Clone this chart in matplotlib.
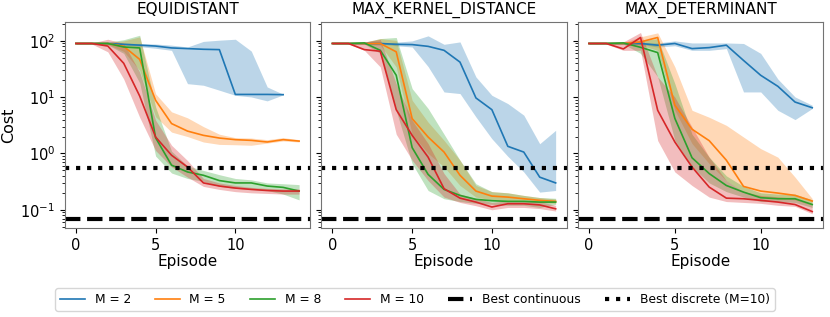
import numpy as np
import matplotlib
matplotlib.use("Agg")
import matplotlib.pyplot as plt
from matplotlib.lines import Line2D

titles = ["EQUIDISTANT", "MAX_KERNEL_DISTANCE", "MAX_DETERMINANT"]
m_labels = ["M = 2", "M = 5", "M = 8", "M = 10"]
colors = ["#1f77b4", "#ff7f0e", "#2ca02c", "#d62728"]
best_continuous = 0.07
best_discrete = 0.56

# ---- EQUIDISTANT ----
eq_m2 = [90, 90, 90, 87, 84, 81, 75, 73, 71, 70, 11.2, 11.2, 11.2, 11.1]
eq_m2_hi = [92, 92, 92, 91, 90, 88, 84, 78, 98, 103, 107, 66, 15.2, 11.3]
eq_m2_lo = [88, 88, 88, 84, 79, 74, 68, 17.4, 16.3, 13.3, 10.8, 10.1, 8.6, 11.0]
eq_m5 = [90, 90, 90, 80, 47, 8.8, 3.4, 2.5, 2.1, 1.88, 1.76, 1.71, 1.60, 1.76, 1.66]
eq_m5_hi = [92, 92, 93, 100, 118, 11.5, 5.5, 4.3, 3.0, 2.2, 1.91, 1.88, 1.76, 1.91, 1.76]
eq_m5_lo = [88, 88, 87, 65, 30, 4.5, 2.4, 2.0, 1.60, 1.45, 1.43, 1.40, 1.53, 1.67, 1.60]
eq_m8 = [90, 90, 90, 78, 75, 1.9, 0.62, 0.47, 0.41, 0.33, 0.30, 0.30, 0.264, 0.25, 0.215]
eq_m8_hi = [92, 92, 95, 105, 126, 6.7, 1.1, 0.6, 0.5, 0.42, 0.36, 0.34, 0.30, 0.29, 0.28]
eq_m8_lo = [88, 88, 85, 60, 18, 0.9, 0.45, 0.36, 0.32, 0.26, 0.24, 0.23, 0.22, 0.19, 0.15]
eq_m10 = [90, 90, 81, 40, 10.5, 1.96, 0.93, 0.575, 0.30, 0.264, 0.243, 0.23, 0.22, 0.215, 0.215]
eq_m10_hi = [92, 92, 107, 90, 28, 3.9, 1.4, 0.75, 0.36, 0.30, 0.27, 0.25, 0.24, 0.235, 0.235]
eq_m10_lo = [88, 88, 64, 21, 4.4, 1.13, 0.58, 0.38, 0.26, 0.23, 0.21, 0.20, 0.195, 0.19, 0.19]

# ---- MAX_KERNEL_DISTANCE ----
kd_m2 = [90, 90, 90, 90, 87, 86, 80, 68, 42, 9.7, 6.0, 1.34, 1.06, 0.38, 0.30]
kd_m2_hi = [92, 92, 92, 92, 95, 100, 123, 87, 96, 22.9, 10.8, 7.7, 4.8, 1.49, 2.58]
kd_m2_lo = [88, 88, 88, 88, 82, 78, 35, 12.4, 11.6, 4.46, 1.83, 0.89, 0.47, 0.206, 0.22]
kd_m5 = [90, 90, 90, 90, 64, 4.16, 1.96, 1.06, 0.41, 0.215, 0.175, 0.168, 0.157, 0.147, 0.141]
kd_m5_hi = [92, 92, 94, 110, 102, 8.8, 3.6, 1.71, 0.76, 0.27, 0.21, 0.20, 0.18, 0.165, 0.155]
kd_m5_lo = [88, 88, 86, 84, 34.5, 2.2, 1.0, 0.58, 0.27, 0.168, 0.15, 0.145, 0.14, 0.135, 0.13]
kd_m8 = [90, 90, 92, 68, 24.5, 1.27, 0.425, 0.23, 0.18, 0.153, 0.145, 0.141, 0.141, 0.137, 0.137]
kd_m8_hi = [92, 92, 95, 110, 115, 14.2, 6.3, 2.2, 0.76, 0.29, 0.21, 0.20, 0.18, 0.165, 0.16]
kd_m8_lo = [88, 88, 88, 60, 5.8, 0.66, 0.22, 0.157, 0.14, 0.13, 0.125, 0.12, 0.12, 0.11, 0.125]
kd_m10 = [90, 90, 70, 65.5, 6.0, 2.1, 0.86, 0.237, 0.161, 0.137, 0.112, 0.128, 0.128, 0.122, 0.104]
kd_m10_hi = [92, 92, 96, 106, 17.4, 3.9, 1.5, 0.44, 0.19, 0.16, 0.135, 0.145, 0.145, 0.14, 0.12]
kd_m10_lo = [88, 88, 68, 34.5, 2.2, 0.76, 0.33, 0.168, 0.135, 0.118, 0.10, 0.11, 0.11, 0.105, 0.095]

# ---- MAX_DETERMINANT ----
md_m2 = [90, 90, 90, 90, 84, 90, 73, 76, 84, 45, 24.5, 15.6, 8.2, 6.5]
md_m2_hi = [92, 92, 92, 93, 92, 100, 92, 92, 92, 90, 60, 21, 10.1, 7.2]
md_m2_lo = [88, 88, 88, 87, 78, 82, 68, 68, 73, 12.4, 12.4, 5.85, 4.0, 6.3]
md_m5 = [90, 90, 90, 96, 115, 7.2, 2.7, 1.69, 0.76, 0.26, 0.215, 0.198, 0.18, 0.143]
md_m5_hi = [92, 92, 93, 118, 139, 34.5, 5.85, 4.4, 3.16, 1.96, 1.22, 0.86, 0.38, 0.158]
md_m5_lo = [88, 88, 87, 84, 68, 5.85, 1.5, 0.66, 0.33, 0.21, 0.17, 0.157, 0.15, 0.12]
md_m8 = [90, 90, 92, 77, 62, 4.2, 0.84, 0.44, 0.27, 0.206, 0.164, 0.157, 0.157, 0.124]
md_m8_hi = [92, 92, 95, 100, 110, 17.4, 2.2, 0.86, 0.40, 0.26, 0.20, 0.19, 0.19, 0.15]
md_m8_lo = [88, 88, 88, 60, 23, 1.71, 0.58, 0.30, 0.21, 0.168, 0.14, 0.14, 0.135, 0.11]
md_m10 = [90, 90, 72, 115, 5.85, 1.6, 0.575, 0.253, 0.161, 0.157, 0.147, 0.137, 0.124, 0.093]
md_m10_hi = [92, 92, 96, 141, 23, 10, 2.95, 0.86, 0.33, 0.21, 0.18, 0.17, 0.16, 0.12]
md_m10_lo = [88, 88, 68, 68, 1.7, 0.47, 0.27, 0.168, 0.14, 0.135, 0.13, 0.12, 0.115, 0.085]

panels = [
    [(eq_m2, eq_m2_lo, eq_m2_hi), (eq_m5, eq_m5_lo, eq_m5_hi),
     (eq_m8, eq_m8_lo, eq_m8_hi), (eq_m10, eq_m10_lo, eq_m10_hi)],
    [(kd_m2, kd_m2_lo, kd_m2_hi), (kd_m5, kd_m5_lo, kd_m5_hi),
     (kd_m8, kd_m8_lo, kd_m8_hi), (kd_m10, kd_m10_lo, kd_m10_hi)],
    [(md_m2, md_m2_lo, md_m2_hi), (md_m5, md_m5_lo, md_m5_hi),
     (md_m8, md_m8_lo, md_m8_hi), (md_m10, md_m10_lo, md_m10_hi)],
]

plt.rcParams['font.family'] = ['DejaVu Sans']
fig, axes = plt.subplots(1, 3, figsize=(8.3, 3.17), dpi=100, sharey=True)
fig.subplots_adjust(left=0.078, right=0.992, top=0.93, bottom=0.28, wspace=0.045)

for ax, title, series in zip(axes, titles, panels):
    for (mean, lo, hi), c in zip(series, colors):
        x = np.arange(len(mean))
        ax.fill_between(x, lo, hi, color=c, alpha=0.3, linewidth=0)
        ax.plot(x, mean, color=c, linewidth=1.2)
    ax.axhline(best_continuous, color='black', linestyle='--', linewidth=3)
    ax.axhline(best_discrete, color='black', linestyle=':', linewidth=3)
    ax.set_yscale('log')
    ax.set_title(title, fontsize=11)
    ax.set_xlabel('Episode', fontsize=11, labelpad=1)
    ax.tick_params(labelsize=10.5)
    for s in ax.spines.values():
        s.set_color('0.45')
axes[0].set_ylim(0.047, 215)
axes[0].set_ylabel('Cost', fontsize=11.5, labelpad=3)

handles = [Line2D([], [], color=c, linewidth=1.2) for c in colors]
handles += [Line2D([], [], color='black', linestyle='--', linewidth=3),
            Line2D([], [], color='black', linestyle=':', linewidth=3)]
labels = m_labels + ['Best continuous', 'Best discrete (M=10)']
fig.legend(handles, labels, loc='lower center', ncol=6, fontsize=8.8,
           bbox_to_anchor=(0.5, 0.0), frameon=True)

fig.savefig('out.png', dpi=100)
